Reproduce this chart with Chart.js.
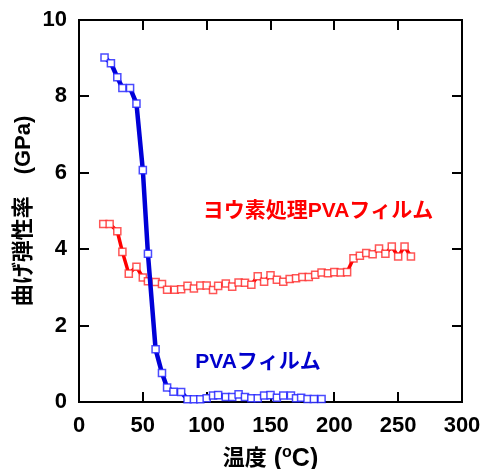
<!DOCTYPE html>
<html>
<head>
<meta charset="utf-8">
<script src="https://cdn.jsdelivr.net/npm/chart.js@4.4.1/dist/chart.umd.min.js"></script>
<style>
  html, body { margin: 0; padding: 0; background: #fff; }
  #wrap { width: 481px; height: 469px; }
</style>
</head>
<body>
<div id="wrap"><canvas id="chart" width="481" height="469"></canvas></div>
<script>
// PVAフィルム
const blueTemp = [20,25,30,34,40,45,50,54,60,65,69,74,80,85,90,95,100,105,109,115,120,125,130,135,140,145,150,155,160,166,170,174,179,184,190]
const blueModulus = [9.02,8.87,8.50,8.22,8.22,7.81,6.07,3.88,1.38,0.76,0.38,0.27,0.26,0.07,0.07,0.07,0.10,0.17,0.18,0.13,0.13,0.20,0.13,0.10,0.10,0.17,0.18,0.11,0.17,0.17,0.10,0.11,0.08,0.08,0.08]

// ヨウ素処理PVAフィルム
const redTemp = [19,24,30,34,39,45,50,54,60,65,69,75,80,85,90,95,100,105,109,115,120,125,130,135,140,145,150,155,160,165,170,175,180,185,190,195,200,205,210,215,220,225,230,235,240,245,250,255,260]
const redModulus = [4.66,4.66,4.47,3.93,3.36,3.54,3.26,3.16,3.14,3.09,2.94,2.94,2.95,3.04,2.97,3.05,3.05,2.93,3.04,3.10,3.02,3.13,3.12,3.07,3.29,3.15,3.32,3.20,3.15,3.22,3.24,3.27,3.27,3.33,3.39,3.37,3.40,3.39,3.40,3.76,3.83,3.90,3.87,4.02,3.88,4.07,3.81,4.07,3.81]

const xTicks = [0,50,100,150,200,250,300]
const yTicks = [0,2,4,6,8,10]

const blueLabel = 'PVAフィルム'
const redLabel = 'ヨウ素処理PVAフィルム'
const yTitle = '曲げ弾性率　(GPa)'

const toPoints = (xs, ys) => xs.map((x, i) => ({ x: x, y: ys[i] }))

const FONT = "'Liberation Sans', 'Noto Sans CJK JP', sans-serif"

// 枠・内向き目盛・軸タイトル・注記
const decor = {
  id: 'decor',
  beforeDatasetsDraw(chart) {
    const { ctx, chartArea: a, scales } = chart
    ctx.save()
    ctx.strokeStyle = '#000'
    ctx.lineWidth = 2
    ctx.strokeRect(a.left, a.top, a.right - a.left, a.bottom - a.top)
    ctx.beginPath()
    xTicks.forEach(v => {
      const px = Math.round(scales.x.getPixelForValue(v))
      ctx.moveTo(px, a.bottom); ctx.lineTo(px, a.bottom - 10)
      ctx.moveTo(px, a.top); ctx.lineTo(px, a.top + 10)
    })
    yTicks.forEach(v => {
      const py = Math.round(scales.y.getPixelForValue(v))
      ctx.moveTo(a.left, py); ctx.lineTo(a.left + 10, py)
      ctx.moveTo(a.right, py); ctx.lineTo(a.right - 10, py)
    })
    ctx.stroke()
    ctx.restore()
  },
  afterDraw(chart) {
    const { ctx, chartArea: a } = chart
    ctx.save()
    ctx.textBaseline = 'middle'

    // y title
    ctx.translate(24, (a.top + a.bottom) / 2)
    ctx.rotate(-Math.PI / 2)
    ctx.textAlign = 'center'
    ctx.fillStyle = '#000'
    ctx.font = 'bold 22px ' + FONT
    ctx.fillText(yTitle, 0, 0)
    ctx.setTransform(1, 0, 0, 1, 0, 0)

    // x title with superscript o
    const cjk = 'bold 22px ' + FONT
    const big = 'bold 25px ' + FONT
    const small = 'bold 16px ' + FONT
    const parts = [['温度', cjk, 0], [' (', big, 0], ['o', small, -9], ['C)', big, 0]]
    let total = 0
    parts.forEach(p => { ctx.font = p[1]; p.push(ctx.measureText(p[0]).width); total += p[3] })
    let x0 = (a.left + a.right) / 2 - total / 2
    const yb = 466
    ctx.textAlign = 'left'
    ctx.textBaseline = 'alphabetic'
    parts.forEach(p => {
      ctx.font = p[1]
      ctx.fillText(p[0], x0, yb + p[2] - (p[1] === cjk ? 1 : 0))
      x0 += p[3]
    })

    // series labels
    ctx.textBaseline = 'middle'
    ctx.textAlign = 'center'
    ctx.font = 'bold 21px ' + FONT
    ctx.fillStyle = '#ff0000'
    ctx.fillText(redLabel, 318, 211)
    ctx.fillStyle = '#0000cc'
    ctx.fillText(blueLabel, 258, 362)
    ctx.restore()
  }
}

new Chart(document.getElementById('chart'), {
  type: 'line',
  data: {
    datasets: [{
      label: blueLabel,
      data: toPoints(blueTemp, blueModulus),
      borderColor: 'rgb(0,0,215)',
      borderWidth: 4.5,
      pointStyle: 'rect',
      pointRadius: 5,
      pointBorderWidth: 1.5,
      pointBorderColor: 'rgba(30,30,255,0.8)',
      pointBackgroundColor: '#fff',
      clip: false,
      tension: 0
    }, {
      label: redLabel,
      data: toPoints(redTemp, redModulus),
      borderColor: '#ff0000',
      borderWidth: 3.5,
      pointStyle: 'rect',
      pointRadius: 5,
      pointBorderWidth: 1.5,
      pointBorderColor: 'rgba(255,30,30,0.75)',
      pointBackgroundColor: '#fff',
      clip: false,
      tension: 0
    }]
  },
  options: {
    responsive: false,
    animation: false,
    layout: { padding: { top: 20, right: 19, left: 0, bottom: 0 } },
    plugins: { legend: { display: false }, tooltip: { enabled: false } },
    scales: {
      x: {
        type: 'linear',
        min: 0, max: 300,
        afterFit: s => { s.height = 67; s.paddingLeft = 0; s.paddingRight = 0 },
        afterBuildTicks: s => { s.ticks = xTicks.map(v => ({ value: v })) },
        grid: { display: false, drawTicks: false },
        border: { display: false },
        ticks: { color: '#000', padding: 11, font: { family: FONT, size: 22, weight: 'bold' } }
      },
      y: {
        min: 0, max: 10,
        afterFit: s => { s.width = 79; s.paddingTop = 0; s.paddingBottom = 0 },
        afterBuildTicks: s => { s.ticks = yTicks.map(v => ({ value: v })) },
        grid: { display: false, drawTicks: false },
        border: { display: false },
        ticks: { color: '#000', padding: 12, font: { family: FONT, size: 22, weight: 'bold' } }
      }
    }
  },
  plugins: [decor]
})
</script>
</body>
</html>
